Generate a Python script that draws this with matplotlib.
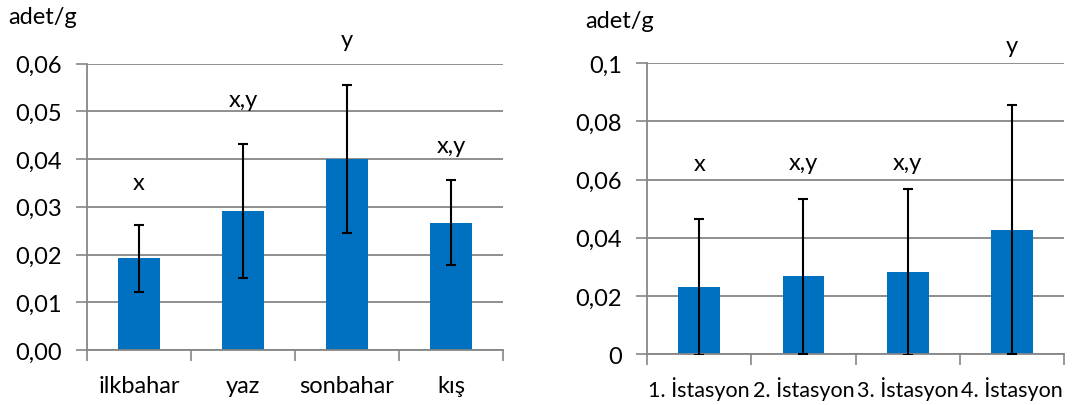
import matplotlib
matplotlib.use("Agg")
import matplotlib.pyplot as plt
from matplotlib.ticker import FuncFormatter

plt.rcParams['font.family'] = ['Lato', 'DejaVu Sans']

# mevsimler (sol grafik)
seasons = ["ilkbahar", "yaz", "sonbahar", "kış"]
season_vals = [0.0192, 0.0291, 0.0401, 0.0267]
season_err = [0.0070, 0.0141, 0.0155, 0.0090]
season_marks = ["x", "x,y", "y", "x,y"]
season_mark_y = [0.0351, 0.0525, 0.0651, 0.0428]

# istasyonlar (sağ grafik)
stations = ["1. İstasyon", "2. İstasyon", "3. İstasyon", "4. İstasyon"]
station_vals = [0.0231, 0.0267, 0.0283, 0.0428]
station_err = [0.0233, 0.0267, 0.0286, 0.0429]
station_marks = ["x", "x,y", "x,y", "y"]
station_mark_y = [0.0654, 0.0660, 0.0660, 0.1060]

BLUE = "#0070C0"
GRID = "#868686"
FS = 17


def style_axes(ax, ymax, step, fmt, xfs, xpad):
    ax.set_xlim(-0.5, 3.5)
    ax.set_ylim(0, ymax)
    ax.set_yticks([i * step for i in range(int(round(ymax / step)) + 1)])
    ax.yaxis.set_major_formatter(FuncFormatter(lambda v, p: fmt(v)))
    ax.set_xticks([-0.5, 0.5, 1.5, 2.5, 3.5], minor=True)
    ax.tick_params(axis="x", which="major", length=0, pad=xpad, labelsize=xfs)
    ax.tick_params(axis="x", which="minor", length=8, width=1.2, color=GRID)
    ax.tick_params(axis="y", length=8, width=1.2, color=GRID, pad=10, labelsize=FS)
    ax.grid(axis="y", color=GRID, linewidth=1.3)
    ax.set_axisbelow(True)
    for s in ["top", "right"]:
        ax.spines[s].set_visible(False)
    for s in ["left", "bottom"]:
        ax.spines[s].set_color(GRID)
        ax.spines[s].set_linewidth(1.3)


fig = plt.figure(figsize=(10.9, 4.06), dpi=100)

ax1 = fig.add_axes([0.0798, 0.1355, 0.3817, 0.7055])
x = range(len(seasons))
ax1.bar(x, season_vals, width=0.4, color=BLUE, zorder=2)
ax1.errorbar(x, season_vals, yerr=season_err, fmt="none", ecolor="black",
             elinewidth=1.5, capsize=3.5, capthick=1.5, zorder=3)
ax1.set_xticks(list(x))
ax1.set_xticklabels(seasons)
style_axes(ax1, 0.06, 0.01, lambda v: f"{v:.2f}".replace(".", ","), FS, 18)
for i, (m, my) in enumerate(zip(season_marks, season_mark_y)):
    ax1.text(i, my, m, ha="center", va="center", fontsize=FS, clip_on=False)
fig.text(8 / 1090, 1 - 17 / 406, "adet/g", ha="left", va="center", fontsize=FS)

ax2 = fig.add_axes([0.5936, 0.1256, 0.3826, 0.716])
x = range(len(stations))
ax2.bar(x, station_vals, width=0.4, color=BLUE, zorder=2)
ax2.errorbar(x, station_vals, yerr=station_err, fmt="none", ecolor="black",
             elinewidth=1.5, capsize=3.5, capthick=1.5, zorder=3)
ax2.set_xticks(list(x))
ax2.set_xticklabels(stations)


def fmt2(v):
    if abs(v) < 1e-9:
        return "0"
    s = f"{v:.2f}".rstrip("0")
    return s.replace(".", ",")


style_axes(ax2, 0.1, 0.02, fmt2, 15.5, 16)
for i, (m, my) in enumerate(zip(station_marks, station_mark_y)):
    ax2.text(i, my, m, ha="center", va="center", fontsize=FS, clip_on=False)
fig.text(585 / 1090, 1 - 21 / 406, "adet/g", ha="left", va="center", fontsize=FS)

fig.savefig("out.png", dpi=100)
